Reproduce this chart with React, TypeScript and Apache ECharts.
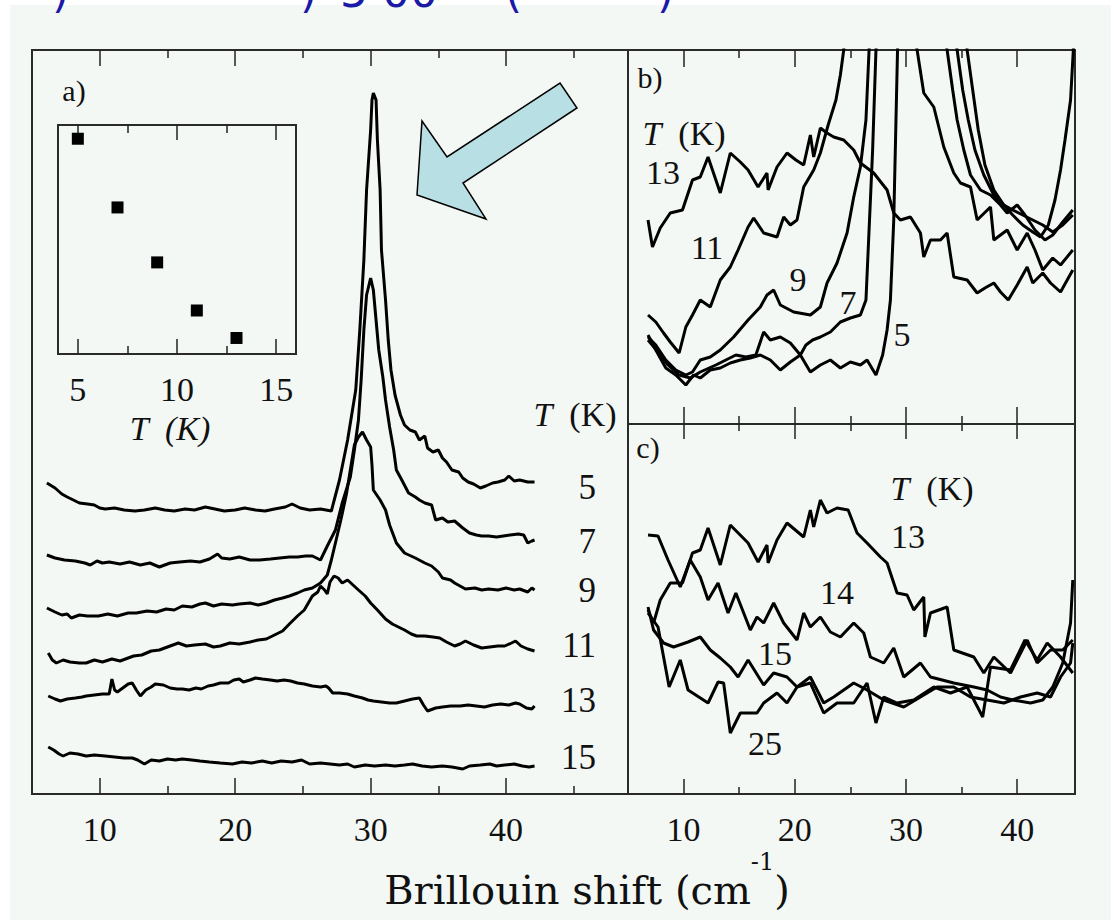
import React, { useEffect, useRef } from "react";
import * as echarts from "echarts";

// ---------- Panel a) : spectra (x: Brillouin shift, cm^-1 ; y: intensity, arb. units incl. offset)
const a5: number[][] = [[6.1,311],[6.7,306],[7.2,300],[7.6,297],[8.2,293],[8.5,291],[9.1,290],[9.6,289],[10.0,286],[10.4,285],[11.1,286],[11.8,284],[12.6,283],[13.3,284],[14.1,286],[14.8,284],[15.5,283],[16.3,285],[17.0,284],[17.8,287],[18.5,285],[19.2,283],[20.0,284],[20.7,286],[21.5,284],[22.2,283],[22.9,285],[23.7,287],[24.2,290],[24.8,286],[25.5,284],[26.3,285],[27.1,283],[27.7,314],[28.3,354],[28.9,404],[29.2,464],[29.5,534],[29.7,604],[30.0,664],[30.1,694],[30.2,701],[30.4,694],[30.5,654],[30.7,604],[30.8,544],[31.1,494],[31.3,454],[31.5,424],[31.8,399],[32.2,379],[32.5,369],[32.9,364],[33.3,362],[33.6,354],[34.0,358],[34.2,346],[34.6,342],[35.0,344],[35.3,336],[35.6,332],[36.0,324],[36.5,322],[36.8,316],[37.2,312],[37.6,310],[38.1,306],[38.5,308],[39.0,311],[39.4,312],[39.9,314],[40.2,318],[40.6,313],[41.0,314],[41.6,312],[42.1,312]];
const a7: number[][] = [[6.1,239],[6.7,236],[7.4,234],[8.2,233],[8.9,231],[9.3,229],[9.8,233],[10.2,231],[10.7,232],[11.5,230],[12.2,232],[13.0,229],[13.7,231],[14.4,227],[15.2,231],[15.9,232],[16.7,233],[17.4,232],[18.1,235],[18.7,240],[19.0,236],[19.6,235],[20.3,237],[21.1,234],[21.8,234],[22.6,235],[23.3,236],[24.0,237],[24.6,237],[25.2,238],[25.7,238],[26.3,234],[26.8,248],[27.4,264],[27.9,291],[28.5,317],[28.8,344],[29.1,374],[29.3,414],[29.5,464],[29.7,499],[30.0,516],[30.2,504],[30.4,474],[30.6,444],[30.9,417],[31.1,394],[31.4,367],[31.7,344],[31.9,324],[32.3,314],[32.8,301],[33.3,297],[33.6,294],[34.0,291],[34.5,289],[34.8,274],[35.3,276],[35.7,272],[36.2,273],[36.8,266],[37.3,261],[37.8,259],[38.2,258],[38.7,258],[39.3,257],[39.8,258],[40.3,259],[40.9,260],[41.3,259],[41.6,251],[41.9,253],[42.1,254]];
const a9: number[][] = [[6.1,186],[6.7,182],[7.2,179],[7.6,180],[7.9,176],[8.5,179],[9.1,178],[9.9,178],[10.6,180],[11.3,178],[12.1,181],[12.7,181],[13.5,183],[14.2,182],[14.9,185],[15.5,184],[16.1,188],[16.8,187],[17.4,190],[17.8,191],[18.4,188],[19.0,190],[19.8,189],[20.3,190],[21.1,191],[21.7,189],[22.3,191],[22.9,194],[23.5,196],[24.0,198],[24.6,201],[25.1,204],[25.7,206],[26.3,211],[26.8,219],[27.1,234],[27.4,251],[27.8,274],[28.2,299],[28.5,324],[28.8,349],[29.1,357],[29.4,362],[29.7,354],[30.0,347],[30.1,329],[30.2,304],[30.7,294],[31.1,284],[31.4,269],[31.9,251],[32.5,241],[33.3,236],[34.0,231],[34.5,228],[35.0,222],[35.3,216],[35.9,214],[36.2,211],[36.6,208],[37.0,205],[37.7,206],[38.2,204],[38.7,205],[39.4,204],[40.0,206],[40.6,204],[41.0,205],[41.6,202],[41.9,206],[42.1,204]];
const a11: number[][] = [[6.2,141],[6.5,134],[6.8,131],[7.3,134],[7.8,132],[8.5,131],[9.0,131],[9.6,134],[10.2,132],[10.9,135],[11.5,133],[11.9,135],[12.5,138],[13.1,139],[13.8,143],[14.4,144],[15.2,148],[15.8,151],[16.4,148],[17.0,149],[17.8,150],[18.4,147],[18.9,148],[19.6,151],[20.3,150],[21.1,152],[21.7,154],[22.3,155],[22.9,159],[23.5,163],[24.0,170],[24.6,178],[25.1,184],[25.7,198],[26.1,202],[26.3,208],[26.6,204],[26.8,200],[27.0,212],[27.3,218],[27.6,216],[27.9,211],[28.3,214],[28.7,209],[29.1,204],[29.6,198],[30.0,191],[30.5,184],[31.1,175],[31.6,170],[31.9,168],[32.5,164],[33.0,160],[33.4,158],[34.0,158],[34.6,157],[35.1,156],[35.6,152],[36.2,148],[36.6,150],[37.0,153],[37.6,149],[38.2,146],[38.8,147],[39.4,148],[39.9,148],[40.4,151],[40.7,153],[41.1,148],[41.6,145],[42.1,143]];
const a13: number[][] = [[6.2,98],[6.7,95],[7.1,93],[7.6,95],[8.2,96],[8.7,97],[9.0,98],[9.6,99],[10.2,100],[10.7,100],[10.9,115],[11.1,104],[11.3,102],[11.8,107],[12.1,110],[12.4,111],[12.7,104],[13.0,98],[13.4,104],[13.8,107],[14.1,110],[14.7,109],[15.2,106],[15.7,105],[16.1,105],[16.6,104],[17.1,106],[17.5,105],[18.0,108],[18.4,109],[18.9,111],[19.2,111],[19.5,111],[19.9,114],[20.3,115],[20.6,112],[21.1,114],[21.5,116],[22.0,115],[22.6,114],[23.1,113],[23.6,114],[24.1,113],[24.6,111],[25.1,110],[25.7,108],[26.3,107],[26.7,108],[26.9,106],[27.2,101],[27.7,101],[28.3,100],[28.8,98],[29.4,96],[29.8,94],[30.2,93],[30.8,92],[31.4,91],[31.9,91],[32.5,93],[33.1,95],[33.6,96],[33.9,89],[34.2,83],[34.8,86],[35.3,87],[35.9,88],[36.6,88],[37.2,89],[37.8,88],[38.4,87],[39.0,89],[39.6,90],[40.2,89],[40.7,91],[41.0,90],[41.5,86],[41.9,85],[42.1,88]];
const a15: number[][] = [[6.2,47],[6.6,44],[7.0,40],[7.3,38],[7.8,41],[8.4,40],[9.0,38],[9.6,39],[10.4,38],[11.1,37],[11.8,36],[12.4,36],[12.8,34],[13.3,30],[13.8,34],[14.4,33],[15.0,35],[15.6,34],[16.1,35],[16.8,34],[17.4,33],[18.1,32],[18.9,31],[19.8,30],[20.5,32],[21.2,31],[22.0,33],[22.7,31],[23.4,33],[24.2,32],[24.9,34],[25.5,30],[26.3,31],[27.0,30],[27.7,29],[28.3,30],[28.8,27],[29.6,29],[30.3,28],[31.1,29],[31.8,28],[32.5,29],[33.1,30],[33.8,28],[34.5,27],[35.3,28],[36.0,27],[36.8,25],[37.3,28],[38.1,29],[38.8,30],[39.3,28],[39.9,29],[40.6,30],[41.2,28],[41.7,27],[42.1,28]];
const aTemps = ["5", "7", "9", "11", "13", "15"];

// ---------- Inset of panel a)
const insetT = [5, 7, 9, 11, 13];
const insetV = [0.94, 0.64, 0.40, 0.19, 0.07];
const insetTicks = [5, 10, 15];

// ---------- Panel b)
const b13: number[][] = [[6.8,204],[7.2,177],[7.9,196],[8.8,211],[9.9,214],[10.8,244],[11.5,247],[12.2,267],[13.3,231],[14.2,271],[15.1,262],[15.8,254],[16.7,237],[17.5,251],[17.6,234],[18.4,257],[19.3,271],[20.1,264],[20.8,259],[21.4,289],[21.7,267],[22.3,296],[22.9,291],[23.5,287],[24.4,284],[25.3,274],[25.9,261],[27.1,251],[28.3,234],[28.9,211],[29.5,204],[30.4,207],[31.3,191],[31.6,167],[32.2,184],[33.1,184],[33.7,191],[34.3,147],[35.5,144],[36.4,131],[37.1,136],[37.9,141],[38.5,132],[39.2,124],[40.0,139],[40.9,157],[41.4,141],[42.3,151],[43.0,141],[43.9,132],[44.5,144],[45.0,154]];
const b11: number[][] = [[6.8,109],[7.5,102],[8.2,91],[8.8,82],[9.6,71],[10.2,97],[10.8,109],[11.5,124],[12.4,117],[13.3,144],[14.2,157],[14.9,174],[15.8,197],[16.3,206],[17.2,191],[18.4,187],[19.0,207],[19.6,199],[20.2,204],[20.8,237],[21.7,254],[22.3,271],[23.0,299],[23.7,324],[24.1,349],[24.4,374],[24.6,404],[30.6,404],[31.0,374],[31.6,331],[32.5,317],[33.4,277],[34.3,251],[34.9,241],[35.8,237],[36.4,204],[37.6,217],[37.9,184],[39.1,194],[40.0,174],[40.9,191],[41.6,174],[42.3,154],[43.2,166],[43.9,159],[45.0,174]];
const b9: number[][] = [[6.8,87],[7.5,79],[8.4,64],[9.3,54],[10.2,49],[10.8,52],[11.5,64],[12.4,67],[13.3,74],[14.5,87],[15.8,104],[16.9,117],[17.5,129],[18.1,134],[18.7,119],[19.9,112],[21.4,109],[22.3,117],[22.9,141],[23.8,161],[24.7,191],[25.3,227],[25.9,257],[26.4,304],[26.6,354],[26.8,404],[33.1,404],[33.7,374],[34.2,334],[34.6,304],[35.2,274],[35.8,249],[36.7,234],[37.6,229],[38.5,219],[39.1,211],[40.0,219],[40.7,209],[41.6,194],[42.5,184],[43.2,189],[44.1,202],[45.0,214]];
const b7: number[][] = [[6.8,84],[7.7,72],[8.6,59],[9.6,49],[10.6,46],[11.5,52],[12.9,59],[13.8,64],[14.7,69],[15.6,67],[16.5,69],[17.2,92],[17.8,84],[18.7,87],[19.6,81],[20.5,69],[21.0,79],[21.6,84],[22.3,87],[23.2,92],[24.1,102],[25.0,106],[25.9,109],[26.4,124],[26.6,174],[27.0,274],[27.3,374],[27.5,404],[34.2,404],[34.6,374],[35.1,334],[35.6,304],[36.2,274],[37.0,249],[37.9,229],[38.8,219],[39.6,214],[40.5,209],[41.4,204],[42.3,199],[43.2,192],[44.1,199],[45.0,209]];
const b5: number[][] = [[6.8,89],[7.5,74],[8.4,56],[9.3,49],[10.2,39],[10.9,49],[11.5,46],[12.4,54],[13.3,56],[14.2,61],[15.1,64],[16.0,66],[16.9,69],[17.8,64],[18.7,54],[19.6,62],[20.5,69],[21.4,52],[22.3,59],[23.2,64],[24.1,56],[25.0,62],[25.9,59],[26.5,64],[27.3,49],[27.9,69],[28.3,94],[28.6,124],[28.9,204],[29.1,304],[29.3,404],[35.2,404],[35.5,374],[36.0,334],[36.5,294],[37.1,259],[37.9,234],[38.8,219],[39.6,209],[40.5,199],[41.4,192],[42.1,187],[42.8,199],[43.4,224],[43.9,254],[44.3,284],[44.8,324],[45.0,364],[45.2,404]];

// ---------- Panel c)
const c13: number[][] = [[6.8,184],[7.3,171],[7.9,194],[8.8,211],[9.9,211],[10.8,241],[11.5,244],[12.2,266],[13.3,229],[14.2,269],[15.8,251],[16.7,232],[17.5,249],[17.6,231],[18.4,254],[19.3,271],[20.8,257],[21.4,284],[21.7,267],[22.3,294],[22.9,281],[23.8,286],[24.8,284],[25.6,261],[26.5,251],[27.7,237],[28.3,231],[29.2,201],[30.1,199],[30.7,184],[31.6,197],[31.7,157],[32.2,181],[33.7,187],[34.3,144],[36.1,137],[37.0,121],[37.9,137],[39.4,121],[40.9,154],[41.8,131],[43.0,144],[44.1,144],[45.0,154]];
const c14: number[][] = [[6.8,259],[7.7,258],[8.6,234],[9.7,207],[10.6,234],[11.5,217],[12.2,194],[13.1,211],[14.0,181],[14.7,201],[16.0,164],[16.6,177],[17.2,171],[18.1,191],[19.0,171],[20.2,154],[20.8,181],[21.4,167],[22.3,177],[23.2,162],[24.1,157],[25.3,171],[26.2,161],[26.8,137],[28.0,131],[28.9,146],[29.8,117],[31.3,131],[32.2,117],[34.3,111],[36.1,107],[37.3,104],[38.5,97],[39.6,94],[41.2,91],[42.3,94],[43.2,107],[44.1,131],[44.8,171],[45.0,214]];
const c15: number[][] = [[6.8,187],[7.3,164],[8.2,151],[9.1,147],[10.4,152],[11.5,157],[12.4,144],[13.3,136],[14.2,127],[14.9,117],[15.8,134],[17.2,109],[18.1,121],[19.3,117],[20.2,107],[21.4,117],[22.6,91],[23.5,97],[25.3,111],[26.5,104],[28.0,94],[29.8,87],[31.3,97],[32.8,107],[34.3,107],[35.8,97],[37.3,94],[38.8,91],[40.3,97],[41.8,101],[43.0,97],[43.9,117],[44.8,131],[45.0,151]];
const c25: number[][] = [[6.8,181],[7.7,167],[8.7,107],[9.7,134],[10.4,104],[12.2,91],[13.1,112],[13.6,111],[14.2,61],[15.1,81],[16.6,81],[17.2,91],[18.4,101],[19.3,91],[20.2,107],[21.4,111],[22.6,81],[23.8,91],[25.3,91],[26.5,111],[27.3,71],[28.0,97],[29.2,91],[30.7,94],[32.5,107],[34.0,101],[35.5,107],[36.9,77],[37.6,127],[39.4,124],[40.7,154],[41.8,134],[42.7,151],[43.9,137],[45.0,121]];

// ---------- axes ticks
const majorTicks = [10, 20, 30, 40];
const minorTicksA = [15, 25, 35, 45];
const minorTicksBC = [15, 25, 35];
const insetMinor = [7.5, 12.5];

const SERIF = "Liberation Serif";
const INK = "#111";

function tickAxes(gridIndex: number, min: number, max: number, major: number[], minor: number[], majLen: number, minLen: number, labels: boolean) {
  const mk = (pos: string, vals: number[], len: number, lab: boolean) => ({
    type: "value",
    gridIndex,
    min,
    max,
    position: pos,
    axisLine: { show: false },
    splitLine: { show: false },
    axisTick: { show: true, inside: true, length: len, customValues: vals, lineStyle: { color: "#222", width: 1.5 } },
    axisLabel: lab
      ? { show: true, customValues: vals, margin: 18, color: INK, fontSize: 34, fontFamily: SERIF }
      : { show: false },
  });
  return [
    mk("bottom", major, majLen, labels),
    mk("bottom", minor, minLen, false),
    mk("top", major, majLen, false),
    mk("top", minor, minLen, false),
  ];
}

function lineSeries(data: number[][], xAxisIndex: number, yAxisIndex: number, name: string) {
  return {
    type: "line",
    name,
    xAxisIndex,
    yAxisIndex,
    data,
    symbol: "none",
    showSymbol: false,
    clip: true,
    silent: true,
    lineStyle: { color: "#000", width: 3 },
    z: 3,
  };
}

function txt(text: string, x: number, y: number, size: number, align = "center", extra: any = {}) {
  return {
    type: "text",
    z: 20,
    x,
    y,
    style: { text, fill: INK, fontSize: size, fontFamily: SERIF, align, verticalAlign: "middle", ...extra },
  };
}

function tk(x: number, y: number, size: number, align = "center") {
  return {
    type: "text",
    z: 20,
    x,
    y,
    style: {
      text: "{i|T}  (K)",
      fill: INK,
      fontSize: size,
      fontFamily: SERIF,
      align,
      verticalAlign: "middle",
      rich: { i: { fontStyle: "italic", fontSize: size, fontFamily: SERIF, fill: INK } },
    },
  };
}

export default function App() {
  const ref = useRef<HTMLDivElement>(null);
  useEffect(() => {
    if (!ref.current) return;
    const chart = echarts.init(ref.current, undefined, { renderer: "svg" });
    const grid = (left: number, top: number, width: number, height: number) => ({
      left, top, width, height, show: true, borderColor: "#2a2a2a", borderWidth: 2, backgroundColor: "transparent", containLabel: false,
    });
    const xAxis = [
      ...tickAxes(0, 5, 49, majorTicks, minorTicksA, 16, 8, true),
      ...tickAxes(1, 5, 45.2, majorTicks, minorTicksBC, 17, 8, false),
      ...tickAxes(2, 5, 45.2, majorTicks, minorTicksBC, 15, 7, true),
      ...tickAxes(3, 4, 16, insetTicks, insetMinor, 15, 8, true),
    ];
    const yAxis = [
      { type: "value", gridIndex: 0, min: 0, max: 744, show: false },
      { type: "value", gridIndex: 1, min: 0, max: 374, show: false },
      { type: "value", gridIndex: 2, min: 0, max: 370, show: false },
      { type: "value", gridIndex: 3, min: 0, max: 1, show: false },
    ];
    const aSeries = [a5, a7, a9, a11, a13, a15].map((d, i) => lineSeries(d, 0, 0, "a" + aTemps[i]));
    const bSeries = [b13, b11, b9, b7, b5].map((d, i) => lineSeries(d, 4, 1, "b" + i));
    const cSeries = [c13, c14, c15, c25].map((d, i) => lineSeries(d, 8, 2, "c" + i));
    const inset = {
      type: "scatter",
      xAxisIndex: 12,
      yAxisIndex: 3,
      data: insetT.map((t, i) => [t, insetV[i]]),
      symbol: "rect",
      symbolSize: 12,
      itemStyle: { color: "#000", opacity: 1 },
      silent: true,
      z: 4,
    };
    const aLabelY = [487, 541, 590, 645, 700, 757];
    const graphic: any[] = [
      { type: "rect", z: 0, shape: { x: 0, y: 0, width: 1111, height: 5 }, style: { fill: "#ffffff" } },
      { type: "rect", z: 0, shape: { x: 0, y: 0, width: 10, height: 920 }, style: { fill: "#ffffff" } },
      // cropped blue caption at the very top
      ...[[")", 52], [")", 300], ["5 00", 340], ["(", 505], [")", 657]].map(([t, x]) => ({
        type: "text", z: 20, x, y: -9,
        style: { text: t, fill: "#1a1aa6", fontSize: 44, fontFamily: "DejaVu Sans", align: "left", verticalAlign: "middle" },
      })),
      // arrow
      {
        type: "polygon", z: 15,
        shape: { points: [[560, 83], [577, 108], [463, 183], [486, 219], [417, 195], [422, 121], [447, 157]] },
        style: { fill: "#b8dfe3", stroke: "#000", lineWidth: 1.5 },
      },
      txt("a)", 74, 90, 30),
      txt("b)", 650, 77, 30),
      txt("c)", 648, 447, 30),
      ...aTemps.map((t, i) => txt(t, 596, aLabelY[i], 35, "right")),
      tk(575, 414, 34),
      // inset axis title
      txt("T  (K)", 170, 428, 34, "center", { fontStyle: "italic" }),
      // panel b labels
      tk(684, 133, 34),
      txt("13", 663, 172, 34),
      txt("11", 707, 247, 34),
      txt("9", 798, 279, 34),
      txt("7", 848, 302, 34),
      txt("5", 902, 334, 34),
      // panel c labels
      tk(932, 488, 34),
      txt("13", 908, 536, 34),
      txt("14", 837, 592, 34),
      txt("15", 775, 653, 34),
      txt("25", 765, 743, 34),
      // x axis title
      {
        type: "text", z: 20, x: 587, y: 890,
        style: {
          text: "{m|Brillouin shift (cm}{s|-1}{m|)}",
          fill: INK, align: "center", verticalAlign: "middle",
          rich: {
            m: { fontSize: 40, fontFamily: "DejaVu Serif", lineHeight: 80, fill: INK },
            s: { fontSize: 24, fontFamily: "DejaVu Serif", lineHeight: 26, verticalAlign: "top", fill: INK },
          },
        },
      },
    ];
    chart.setOption({
      animation: false,
      backgroundColor: "#f4f8f5",
      grid: [grid(32, 50, 596, 744), grid(628, 50, 447, 374), grid(628, 424, 447, 370), grid(58, 125, 238, 229)],
      xAxis,
      yAxis,
      series: [...aSeries, ...bSeries, ...cSeries, inset],
      graphic,
    });
    return () => chart.dispose();
  }, []);
  return <div ref={ref} style={{ position: "absolute", left: 0, top: 0, width: 1111, height: 920 }} />;
}
